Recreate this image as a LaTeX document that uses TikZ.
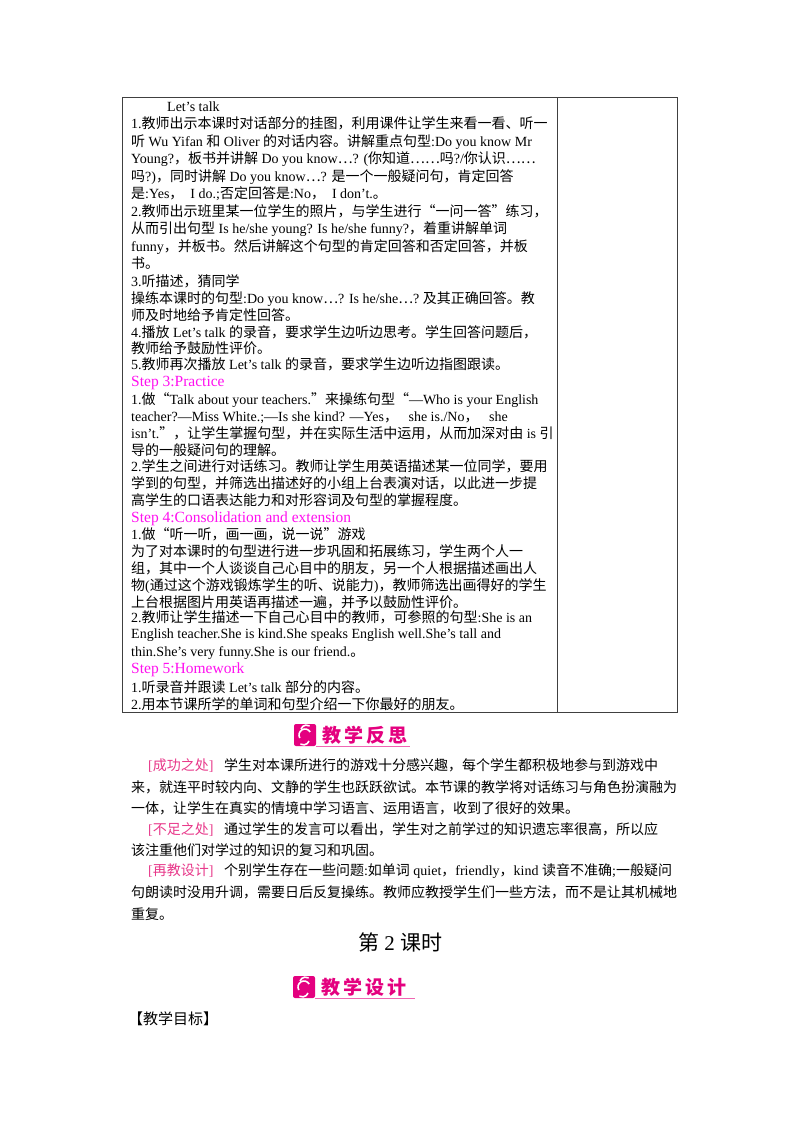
\documentclass[tikz,border=0pt]{standalone}
\usepackage{fontspec}
\setmainfont{Liberation Serif}
\newfontfamily\cjk{Noto Sans CJK SC}
\newcount\cc
\def\setcls#1#2{\cc=#1 \loop \XeTeXcharclass\cc=7 \ifnum\cc<#2 \advance\cc by 1 \repeat}
\setcls{"2E80}{"9FFF}
\setcls{"FF00}{"FFEF}
\XeTeXcharclass"201C=7 \XeTeXcharclass"201D=7 \XeTeXcharclass"2026=7 \XeTeXcharclass"3001=7 \XeTeXcharclass"3002=7
\XeTeXcharclass"3010=7 \XeTeXcharclass"3011=7
\XeTeXinterchartokenstate=1
\XeTeXinterchartoks 0 7 = {\begingroup\cjk}
\XeTeXinterchartoks 4095 7 = {\begingroup\cjk}
\XeTeXinterchartoks 7 0 = {\endgroup}
\XeTeXinterchartoks 7 4095 = {\endgroup}
\definecolor{stepc}{HTML}{FF10F0}
\definecolor{brc}{HTML}{E8388A}
\definecolor{icon}{HTML}{E4007F}
\begin{document}
\begin{tikzpicture}[x=1pt,y=-1pt,
  ln/.style={anchor=base west,inner sep=0,font=\fontsize{14}{14}\selectfont},
  st/.style={ln,text=stepc,font=\fontsize{15.5}{15}\selectfont},
  hd/.style={anchor=west,inner sep=0,text=icon,font=\fontsize{19}{19}\selectfont\bfseries},
  sw/.style={white,line width=1.6pt}]
\useasboundingbox (0,0) rectangle (800,1132);
\fill[white] (0,0) rectangle (800,1132);
\draw[line width=1pt,black!75] (122,97) rectangle (677,712);
\draw[line width=1pt,black!75] (557,97) -- (557,712);
\node[ln] (l0) at (167,111) {Let’s talk};
\node[ln] (l1) at (131,128) {1.教师出示本课时对话部分的挂图，利用课件让学生来看一看、听一};
\node[ln] (l2) at (131,146) {听 Wu Yifan 和 Oliver 的对话内容。讲解重点句型:Do you know Mr};
\node[ln] (l3) at (131,163) {Young?，板书并讲解 Do you know…? (你知道……吗?/你认识……};
\node[ln] (l4) at (131,181) {吗?)，同时讲解 Do you know…? 是一个一般疑问句，肯定回答};
\node[ln] (l5) at (131,198) {是:Yes，\ \ I do.;否定回答是:No，\ \ I don’t.。};
\node[ln] (l6) at (131,216) {2.教师出示班里某一位学生的照片，与学生进行“一问一答”练习，};
\node[ln] (l7) at (131,233) {从而引出句型 Is he/she young? Is he/she funny?，着重讲解单词};
\node[ln] (l8) at (131,251) {funny，并板书。然后讲解这个句型的肯定回答和否定回答，并板};
\node[ln] (l9) at (131,268) {书。};
\node[ln] (l10) at (131,286) {3.听描述，猜同学};
\node[ln] (l11) at (131,303) {操练本课时的句型:Do you know…? Is he/she…?\ 及其正确回答。教};
\node[ln] (l12) at (131,320) {师及时地给予肯定性回答。};
\node[ln] (l13) at (131,337) {4.播放\ Let’s talk\ 的录音，要求学生边听边思考。学生回答问题后，};
\node[ln] (l14) at (131,353) {教师给予鼓励性评价。};
\node[ln] (l15) at (131,369) {5.教师再次播放\ Let’s talk 的录音，要求学生边听边指图跟读。};
\node[st] (s3) at (131,386) {Step 3:Practice};
\node[ln] (l16) at (131,404) {1.做“Talk about your teachers.”来操练句型“—Who is your English};
\node[ln] (l17) at (131,421) {teacher?—Miss White.;—Is she kind? —Yes，\ \ \ she is./No，\ \ \ she};
\node[ln] (l18) at (131,438) {isn’t.”，让学生掌握句型，并在实际生活中运用，从而加深对由 is 引};
\node[ln] (l19) at (131,455) {导的一般疑问句的理解。};
\node[ln] (l20) at (131,471) {2.学生之间进行对话练习。教师让学生用英语描述某一位同学，要用};
\node[ln] (l21) at (131,488) {学到的句型，并筛选出描述好的小组上台表演对话，以此进一步提};
\node[ln] (l22) at (131,505) {高学生的口语表达能力和对形容词及句型的掌握程度。};
\node[st] (s4) at (131,522) {Step 4:Consolidation and extension};
\node[ln] (l23) at (131,539) {1.做“听一听，画一画，说一说”游戏};
\node[ln] (l24) at (131,556) {为了对本课时的句型进行进一步巩固和拓展练习，学生两个人一};
\node[ln] (l25) at (131,573) {组，其中一个人谈谈自己心目中的朋友，另一个人根据描述画出人};
\node[ln] (l26) at (131,590) {物(通过这个游戏锻炼学生的听、说能力)，教师筛选出画得好的学生};
\node[ln] (l27) at (131,607) {上台根据图片用英语再描述一遍，并予以鼓励性评价。};
\node[ln] (l28) at (131,622) {2.教师让学生描述一下自己心目中的教师，可参照的句型:She is an};
\node[ln] (l29) at (131,638) {English teacher.She is kind.She speaks English well.She’s tall and};
\node[ln] (l30) at (131,656) {thin.She’s very funny.She is our friend.。};
\node[st] (s5) at (131,673) {Step 5:Homework};
\node[ln] (l31) at (131,692) {1.听录音并跟读\ Let’s talk 部分的内容。};
\node[ln] (l32) at (131,709) {2.用本节课所学的单词和句型介绍一下你最好的朋友。};
% header 1
\fill[icon,rounded corners=2pt] (294,724) rectangle (316,746);
\draw[sw] (305,735) ++(150:6) arc (150:330:6);
\draw[sw] (301,729) arc (200:300:6);
\draw[sw] (309,741) arc (20:120:6);
\node[hd] (h1) at (322,735) {教\hspace{3pt}学\hspace{3pt}反\hspace{3pt}思};
\draw[icon!60,line width=0.8pt] (316,746.5) -- (410,746.5);
% reflections
\node[ln] (p1) at (148,770) {\textcolor{brc}{[成功之处]}\ \ \ 学生对本课所进行的游戏十分感兴趣，每个学生都积极地参与到游戏中};
\node[ln] (p2) at (131,792) {来，就连平时较内向、文静的学生也跃跃欲试。本节课的教学将对话练习与角色扮演融为};
\node[ln] (p3) at (131,813) {一体，让学生在真实的情境中学习语言、运用语言，收到了很好的效果。};
\node[ln] (p4) at (148,834) {\textcolor{brc}{[不足之处]}\ \ \ 通过学生的发言可以看出，学生对之前学过的知识遗忘率很高，所以应};
\node[ln] (p5) at (131,855) {该注重他们对学过的知识的复习和巩固。};
\node[ln] (p6) at (148,875) {\textcolor{brc}{[再教设计]}\ \ \ 个别学生存在一些问题:如单词 quiet，friendly，kind 读音不准确;一般疑问};
\node[ln] (p7) at (131,897) {句朗读时没用升调，需要日后反复操练。教师应教授学生们一些方法，而不是让其机械地};
\node[ln] (p8) at (131,919) {重复。};
\node[anchor=base,inner sep=0,font=\fontsize{21}{21}\selectfont] (t2) at (400,950) {第 2 课时};
% header 2
\fill[icon,rounded corners=2pt] (293,976) rectangle (315,998);
\draw[sw] (304,987) ++(150:6) arc (150:330:6);
\draw[sw] (300,981) arc (200:300:6);
\draw[sw] (308,993) arc (20:120:6);
\node[hd] (h2) at (321,987) {教\hspace{3pt}学\hspace{3pt}设\hspace{3pt}计};
\draw[icon!60,line width=0.8pt] (315,998.5) -- (415,998.5);
\node[ln,font=\fontsize{15}{15}\selectfont] (g) at (128,1024) {【教学目标】};
\end{tikzpicture}
\end{document}
